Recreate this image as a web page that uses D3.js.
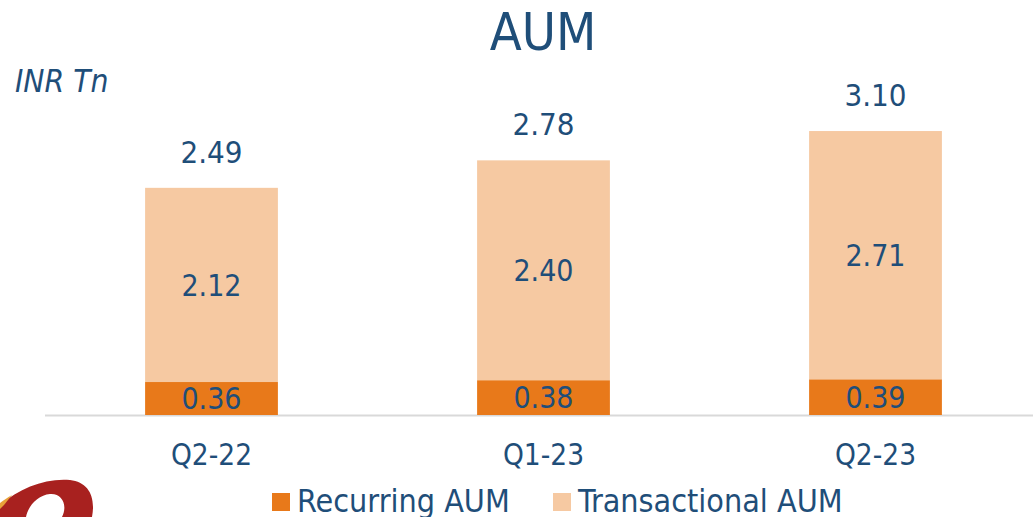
<!DOCTYPE html>
<html>
<head>
<meta charset="utf-8">
<script src="https://cdn.jsdelivr.net/npm/d3@7"></script>
<style>
  html, body { margin: 0; padding: 0; background: #fff; }
  svg { display: block; }
  text { font-family: "DejaVu Sans Condensed", "DejaVu Sans", sans-serif; font-stretch: condensed; fill: #1F4E79; }
</style>
</head>
<body>
<svg id="chart" width="1033" height="517"></svg>
<script>
// Quarterly AUM, INR trillion
const quarters = ["Q2-22", "Q1-23", "Q2-23"];
const recurring = [0.36, 0.38, 0.39];
const transactional = [2.12, 2.40, 2.71];
const totals = [2.49, 2.78, 3.10];
const seriesNames = ["Recurring AUM", "Transactional AUM"];
const seriesColors = ["#E8791A", "#F6C9A2"];

const W = 1033, H = 517;
const svg = d3.select("#chart");

const x = d3.scaleBand()
  .domain(quarters)
  .range([45.5, 1041.5])
  .paddingInner(0.6)
  .paddingOuter(0.3);

const y = d3.scaleLinear()
  .domain([0, 3.5])
  .range([415, 94.4]);

const rows = quarters.map((q, i) => ({ q, rec: recurring[i], tra: transactional[i], total: totals[i] }));
const stack = d3.stack().keys(["rec", "tra"]);
const layers = stack(rows);

// Baseline
svg.append("line")
  .attr("x1", 45).attr("x2", W)
  .attr("y1", 415.5).attr("y2", 415.5)
  .attr("stroke", "#D9D9D9").attr("stroke-width", 2);

// Stacked bars
const g = svg.append("g");
layers.forEach((layer, li) => {
  g.selectAll(null).data(layer).enter().append("rect")
    .attr("x", d => x(d.data.q))
    .attr("width", x.bandwidth())
    .attr("y", d => y(d[1]))
    .attr("height", d => y(d[0]) - y(d[1]))
    .attr("fill", seriesColors[li]);

  // Segment value labels
  g.selectAll(null).data(layer).enter().append("text")
    .attr("x", d => x(d.data.q) + x.bandwidth() / 2)
    .attr("y", d => (y(d[0]) + y(d[1])) / 2)
    .attr("dy", "0.36em")
    .attr("text-anchor", "middle")
    .attr("font-size", 30)
    .text(d => d3.format(".2f")(d[1] - d[0]));
});

// Totals above bars
g.selectAll(null).data(rows).enter().append("text")
  .attr("x", d => x(d.q) + x.bandwidth() / 2)
  .attr("y", d => y(d.rec + d.tra) - 25)
  .attr("text-anchor", "middle")
  .attr("font-size", 31)
  .text(d => d3.format(".2f")(d.total));

// Category axis
const xAxis = svg.append("g")
  .attr("transform", "translate(0,415)")
  .call(d3.axisBottom(x).tickSize(0).tickPadding(0));
xAxis.select(".domain").remove();
xAxis.selectAll("text")
  .attr("y", 50)
  .attr("dy", 0)
  .attr("font-size", 29.5)
  .style("font-family", "\"DejaVu Sans Condensed\", \"DejaVu Sans\", sans-serif")
  .attr("fill", "#1F4E79");

// Title and unit
svg.append("text")
  .attr("x", 543).attr("y", 50)
  .attr("text-anchor", "middle")
  .attr("font-size", 52)
  .text("AUM");

svg.append("text")
  .attr("x", 15).attr("y", 92)
  .attr("font-size", 31.5)
  .attr("font-style", "italic")
  .text("INR Tn");

// Legend
const legendX = [272, 553];
const legend = svg.append("g");
seriesNames.forEach((name, i) => {
  legend.append("rect")
    .attr("x", legendX[i]).attr("y", 493)
    .attr("width", 18).attr("height", 18)
    .attr("fill", seriesColors[i]);
  legend.append("text")
    .attr("x", legendX[i] + 25).attr("y", 512)
    .attr("font-size", 32)
    .text(name);
});

// Corner logo mark
const logo = svg.append("g");
logo.append("path")
  .attr("d", "M0,505 C20,488 45,478 70,480 C88,482 96,496 92,517 L62,517 C68,505 62,493 50,494 C38,495 28,506 26,517 L0,517 Z")
  .attr("fill", "#A8211F");
logo.append("path")
  .attr("d", "M0,503 C4,500 8,497 12,495 L4,505 L0,509 Z")
  .attr("fill", "#E8A13A");
</script>
</body>
</html>
